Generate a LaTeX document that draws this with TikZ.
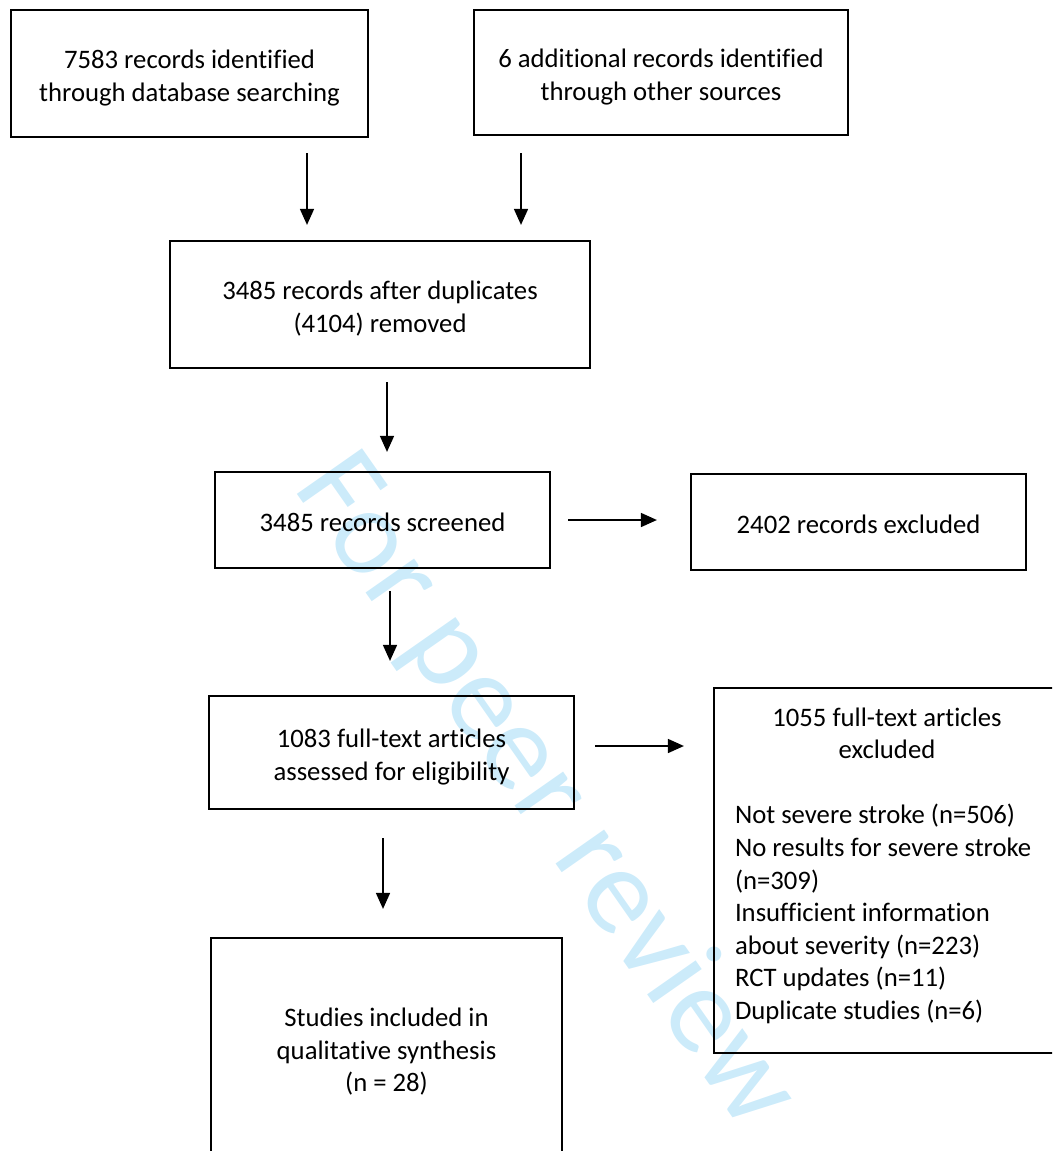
\documentclass[tikz,border=0pt]{standalone}
\usepackage{fontspec}
\setmainfont{Carlito}[Ligatures={NoCommon,NoContextual}]
\usepackage{tikz}
\usetikzlibrary{arrows.meta}
\definecolor{wmblue}{RGB}{204,235,250}
\newcommand{\boxfont}{\fontsize{26.7}{32.6}\selectfont}
\newcommand{\bxtop}{\rule{0pt}{30.6pt}}
\newcommand{\bxbot}{\rule[-8pt]{0pt}{8pt}}
\tikzset{
  box/.style={draw, line width=2.2pt, align=center, inner sep=0pt, font=\boxfont},
  flow/.style={line width=1.6pt, -{Triangle[length=16pt,width=14pt]}},
}

\begin{document}
\begin{tikzpicture}[x=1pt, y=-1pt]
			%%%%% START %%%%%
			\useasboundingbox (0, 0) rectangle (1052, 1151);
			\clip (0, 0) rectangle (1052, 1151);
			
			\node[color=wmblue, rotate=-55, font=\fontsize{124}{124}\selectfont] (wmark) at (545, 792) {For peer review};
			
			\node[box, minimum width=357pt, minimum height=127pt] (srcdb) at (189.5, 73.5) {\bxtop 7583 records identified\\through database searching\bxbot};
			\node[box, minimum width=374pt, minimum height=125pt] (srcother) at (661, 72.5) {\bxtop 6 additional records identified\\through other sources\bxbot};
			
			\node[box, minimum width=420pt, minimum height=127pt] (dedup) at (380, 304.5) {\bxtop 3485 records after duplicates\\(4104) removed\bxbot};
			
			\node[box, minimum width=335pt, minimum height=96pt] (screen) at (382.5, 520) {\bxtop 3485 records screened\bxbot};
			\node[box, minimum width=335pt, minimum height=96pt] (screxcl) at (858.5, 522) {\bxtop 2402 records excluded\bxbot};
			
			\node[box, minimum width=365pt, minimum height=113pt] (fulltext) at (391.5, 752.5) {\bxtop 1083 full-text articles\\assessed for eligibility\bxbot};
			\node[box, align=left, inner xsep=21pt, minimum height=365pt] (ftexcl) at (887, 870.5) {\bxtop\makebox[304pt][c]{1055 full-text articles}\\\makebox[304pt][c]{excluded}\\[32.6pt]
				Not severe stroke (n=506)\\No results for severe stroke\\(n=309)\\Insufficient information\\about severity (n=223)\\RCT updates (n=11)\\Duplicate studies (n=6)\rule[-26pt]{0pt}{0pt}};
			
			\node[box, minimum width=351pt, minimum height=220pt] (incl) at (386.5, 1048) {\bxtop Studies included in\\qualitative synthesis\\(n = 28)\bxbot};
			
			% arrows
			\draw[flow, shorten <=15pt, shorten >=15pt] ([xshift=117.5pt]srcdb.south) -- ([xshift=117.5pt]srcdb.south |- dedup.north);
			\draw[flow, shorten <=17pt, shorten >=15pt] ([xshift=-140pt]srcother.south) -- ([xshift=-140pt]srcother.south |- dedup.north);
			\draw[flow, shorten <=13pt, shorten >=19pt] ([xshift=7pt]dedup.south) -- ([xshift=7pt]dedup.south |- screen.north);
			\draw[flow, shorten <=17pt, shorten >=33pt] (screen.east) -- (screen.east -| screxcl.west);
			\draw[flow, shorten <=22pt, shorten >=34pt] ([xshift=7.5pt]screen.south) -- ([xshift=7.5pt]screen.south |- fulltext.north);
			\draw[flow, shorten <=20pt, shorten >=29pt] ([yshift=6.5pt]fulltext.east) -- ([yshift=6.5pt]fulltext.east -| ftexcl.west);
			\draw[flow, shorten <=28pt, shorten >=28pt] ([xshift=-8.5pt]fulltext.south) -- ([xshift=-8.5pt]fulltext.south |- incl.north);
			
			%%%%% END %%%%%
\end{tikzpicture}
\end{document}
